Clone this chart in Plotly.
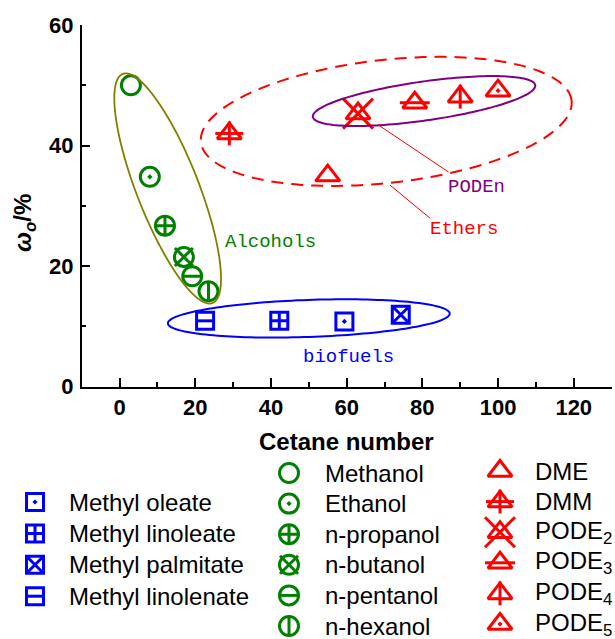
import math
import plotly.graph_objects as go

# ---------------- data ----------------
alcohol_names = ["Methanol", "Ethanol", "n-propanol", "n-butanol", "n-pentanol", "n-hexanol"]
alcohol_cetane = [3, 8, 12, 17, 19.2, 23.5]
alcohol_oxygen = [50.0, 34.8, 26.7, 21.5, 18.3, 15.8]

biofuel_names = ["Methyl oleate", "Methyl linoleate", "Methyl palmitate", "Methyl linolenate"]
biofuel_cetane = [59.4, 42.2, 74.3, 22.6]
biofuel_oxygen = [10.8, 10.9, 11.9, 10.9]

ether_names = ["DME", "DMM", "PODE<sub>2</sub>", "PODE<sub>3</sub>", "PODE<sub>4</sub>", "PODE<sub>5</sub>"]
ether_cetane = [55, 29, 63, 78, 90, 100]
ether_oxygen = [35.0, 42.0, 45.3, 47.1, 48.1, 49.1]

x_ticks = [0, 20, 40, 60, 80, 100, 120]
y_ticks = [0, 20, 40, 60]

# ---------------- styles ----------------
GREEN, BLUE, RED = "#008000", "#0000FF", "#FF0000"
OLIVE, PURPLE = "#808000", "#800080"
LW = 3
FONT = "Liberation Sans, Arial, sans-serif"
MONO = "Liberation Mono, Courier New, monospace"

alcohol_symbols = [
    [("circle-open", 19)],
    [("circle-open-dot", 19)],
    [("circle-cross-open", 19)],
    [("circle-open", 19), ("x-thin-open", 18)],
    [("circle-open", 19), ("line-ew-open", 13.5)],
    [("circle-open", 19), ("line-ns-open", 13.5)],
]
biofuel_symbols = [
    [("square-open-dot", 17)],
    [("square-cross-open", 17)],
    [("square-x-open", 17)],
    [("square-open", 17), ("line-ew-open", 12)],
]
ether_symbols = [
    [("triangle-up-open", 21)],
    [("triangle-up-open", 21), ("line-ew-open", 20), ("line-ns-open", 17)],
    [("triangle-up-open", 21), ("x-thin-open", 30)],
    [("triangle-up-open", 21), ("line-ew-open", 21.4)],
    [("triangle-up-open", 21), ("line-ns-open", 17)],
    [("triangle-up-open-dot", 21)],
]

W, H = 615, 639
PX0, PX1 = 81.7, 611.6
PY0, PY1 = 25.0, 386.5
XR = [-10, 130]
YR = [0, 60]
kx = (PX1 - PX0) / (XR[1] - XR[0])
ky = (PY1 - PY0) / (YR[1] - YR[0])

fig = go.Figure()

groups = [
    (alcohol_names, alcohol_cetane, alcohol_oxygen, alcohol_symbols, GREEN),
    (biofuel_names, biofuel_cetane, biofuel_oxygen, biofuel_symbols, BLUE),
    (ether_names, ether_cetane, ether_oxygen, ether_symbols, RED),
]

for names, xs, ys, syms, col in groups:
    for name, xv, yv, layers in zip(names, xs, ys, syms):
        for sym, size in layers:
            fig.add_trace(go.Scatter(
                x=[xv], y=[yv], mode="markers", name=name, showlegend=False,
                cliponaxis=False,
                marker=dict(symbol=sym, size=size, color=col,
                            line=dict(color=col, width=LW)),
                xaxis="x", yaxis="y"))

# ---------------- grouping ellipses ----------------
def ellipse_path(cx, cy, a_px, b_px, ang_deg, n=160):
    th = math.radians(ang_deg)
    pts = []
    for i in range(n + 1):
        t = 2 * math.pi * i / n
        dx = a_px * math.cos(t) * math.cos(th) - b_px * math.sin(t) * math.sin(th)
        dy = a_px * math.cos(t) * math.sin(th) + b_px * math.sin(t) * math.cos(th)
        pts.append((cx + dx / kx, cy + dy / ky))
    return "M " + " L ".join(f"{x:.4f},{y:.4f}" for x, y in pts) + " Z"

ellipses = [
    # (center x, center y, semi-major px, semi-minor px, angle, colour, width, dash)
    (12.71, 32.87, 123, 31, 111.4, OLIVE, 1.8, "solid"),
    (50.0, 11.3, 141, 18.5, 2.0, BLUE, 2.0, "solid"),
    (80.45, 47.38, 112.3, 19.5, 8.1, PURPLE, 2.0, "solid"),
    (70.46, 44.0, 186.5, 61.5, 6.4, RED, 2.0, "12px,8px"),
]
shapes = []
for cx, cy, a, b, ang, col, w, dash in ellipses:
    shapes.append(dict(type="path", xref="x", yref="y",
                       path=ellipse_path(cx, cy, a, b, ang),
                       line=dict(color=col, width=w, dash=dash),
                       fillcolor="rgba(0,0,0,0)", layer="above"))

# leader lines
shapes.append(dict(type="line", xref="x", yref="y", x0=68.4, y0=43.4, x1=86.9, y1=35.6,
                   line=dict(color=RED, width=1)))
shapes.append(dict(type="line", xref="x", yref="y", x0=71.5, y0=33.4, x1=82.1, y1=27.9,
                   line=dict(color=RED, width=1)))

CENTER = dict(xanchor="center", yanchor="middle", showarrow=False)
annotations = [
    dict(text="Alcohols", x=39.8, y=24.0, xref="x", yref="y",
         font=dict(family=MONO, size=19, color=GREEN), **CENTER),
    dict(text="biofuels", x=60.5, y=4.9, xref="x", yref="y",
         font=dict(family=MONO, size=19, color=BLUE), **CENTER),
    dict(text="PODEn", x=94.2, y=33.1, xref="x", yref="y",
         font=dict(family=MONO, size=19, color=PURPLE), **CENTER),
    dict(text="Ethers", x=90.9, y=26.2, xref="x", yref="y",
         font=dict(family=MONO, size=19, color=RED), **CENTER),
    dict(text="<b>Cetane number</b>", x=(PX0 + PX1) / 2 / W, y=1 - 441 / H,
         xref="paper", yref="paper",
         font=dict(family=FONT, size=24, color="black"), **CENTER),
    dict(text="<b><i>ω<sub>o</sub></i>/%</b>", x=25 / W, y=1 - 223 / H,
         xref="paper", yref="paper", textangle=-90,
         font=dict(family=FONT, size=24, color="black"), **CENTER),
]

# ---------------- manual legend (three columns) ----------------
LEG_TOP = 445
legend_columns = [
    (biofuel_names, biofuel_symbols, BLUE, 35, 67, 502, 31.4),
    (alcohol_names, alcohol_symbols, GREEN, 289, 323, 473, 30.6),
    (ether_names, ether_symbols, RED, 500, 533, 471, 30.6),
]
for names, syms, col, sx, tx, y0, pitch in legend_columns:
    for i, (name, layers) in enumerate(zip(names, syms)):
        yy = y0 + i * pitch
        for sym, size in layers:
            fig.add_trace(go.Scatter(
                x=[sx], y=[yy], mode="markers", showlegend=False, cliponaxis=False,
                marker=dict(symbol=sym, size=size, color=col,
                            line=dict(color=col, width=LW)),
                xaxis="x2", yaxis="y2", hoverinfo="skip"))
        annotations.append(dict(text=name, x=tx, y=yy, xref="x2", yref="y2",
                                xanchor="left", yanchor="middle", showarrow=False,
                                font=dict(family=FONT, size=24, color="black")))

axis_common = dict(showgrid=False, zeroline=False, showline=True, linecolor="black",
                   linewidth=1.5, ticks="inside", ticklen=9, tickwidth=1.5,
                   tickcolor="black", automargin=False,
                   tickfont=dict(family=FONT, size=22, color="black", weight="bold"),
                   minor=dict(ticks="inside", ticklen=5, tickwidth=1.5, tickcolor="black"))

fig.update_layout(
    template="none",
    width=W, height=H, margin=dict(l=0, r=0, t=0, b=0, autoexpand=False),
    paper_bgcolor="white", plot_bgcolor="rgba(0,0,0,0)",
    font=dict(family=FONT, color="black"),
    showlegend=False,
    xaxis=dict(domain=[PX0 / W, PX1 / W], range=XR, tickvals=x_ticks,
               minor_dtick=10, anchor="y", **axis_common),
    yaxis=dict(domain=[1 - PY1 / H, 1 - PY0 / H], range=YR, tickvals=y_ticks,
               minor_dtick=10, anchor="x", ticklabelstandoff=2, **axis_common),
    xaxis2=dict(domain=[0, 1], range=[0, W], visible=False, anchor="y2",
                fixedrange=True, automargin=False),
    yaxis2=dict(domain=[0, (H - LEG_TOP) / H], range=[H, LEG_TOP], visible=False,
                anchor="x2", fixedrange=True, automargin=False),
    shapes=shapes, annotations=annotations,
)

fig.write_html("out.html", config={"displayModeBar": False},
               post_script="document.body.style.margin='0px';document.body.style.overflow='hidden';")
